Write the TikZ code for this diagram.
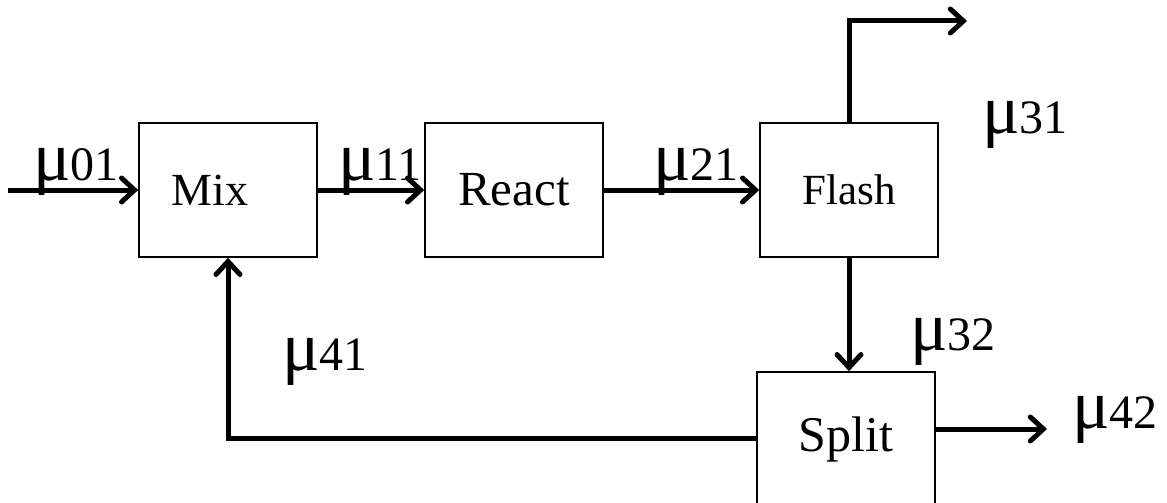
\documentclass[tikz,border=0pt]{standalone}
\usepackage{fontspec}
\setmainfont{Liberation Serif}
\usetikzlibrary{arrows.meta}
\newcommand\mulab[1]{{\fontsize{70}{70}\selectfont μ}{\fontsize{48}{48}\selectfont #1}}
\begin{document}
\begin{tikzpicture}[x=1pt,y=-1pt,
  unit/.style={draw, line width=1.6pt, minimum width=178pt, minimum height=134pt, inner sep=0pt},
  flow/.style={line width=5pt, -{Straight Barb[length=13pt,width=24pt,line cap=round]}},
  lab/.style={anchor=base west, inner sep=0pt}]
\useasboundingbox (0,0) rectangle (1167,503);
\node[unit] (mix) at (228,190) {\fontsize{46}{46}\selectfont Mix\hspace*{36pt}};
\node[unit] (react) at (514,190) {\fontsize{49}{49}\selectfont React};
\node[unit] (flash) at (849,190) {\fontsize{43}{43}\selectfont Flash};
\node[unit, minimum height=140pt] (split) at (846,442) {\raisebox{16pt}{\fontsize{50}{50}\selectfont Split}};
\coordinate (in) at (8,190);
\coordinate (out31) at (967,21);
\coordinate (out42) at (1047,429);
\draw[flow] (in) -- (mix.west);
\draw[flow] (mix.east) -- (react.west);
\draw[flow] (react.east) -- (flash.west);
\draw[flow] (flash.north) |- (out31);
\draw[flow] (flash.south) -- (flash.south |- split.north);
\draw[flow] (split.east |- out42) -- (out42);
\draw[flow] ([yshift=4pt]split.west) -| (mix.south);
\node[lab] (l01) at (33,180) {\mulab{01}};
\node[lab] (l11) at (338,180) {\mulab{11}};
\node[lab] (l21) at (653,180) {\mulab{21}};
\node[lab] (l31) at (982,133) {\mulab{31}};
\node[lab] (l32) at (910,350) {\mulab{32}};
\node[lab] (l41) at (282,370) {\mulab{41}};
\node[lab] (l42) at (1072,428) {\mulab{42}};
\end{tikzpicture}
\end{document}
